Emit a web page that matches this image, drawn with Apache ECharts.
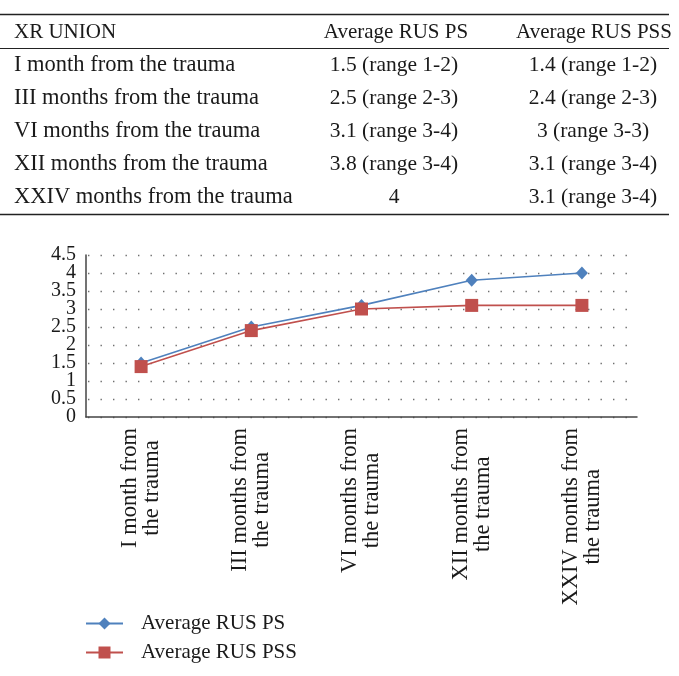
<!DOCTYPE html>
<html>
<head>
<meta charset="utf-8">
<script src="https://cdn.jsdelivr.net/npm/echarts@6/dist/echarts.min.js"></script>
<style>
html,body{margin:0;padding:0;background:#fff;}
#chart{width:679px;height:676px;}
</style>
</head>
<body>
<div id="chart"></div>
<script>
// ---- data ----
const categories = ['I month from the trauma','III months from the trauma','VI months from the trauma','XII months from the trauma','XXIV months from the trauma'];
const tableHeader = ['XR UNION','Average RUS PS','Average RUS PSS'];
const psText = ['1.5 (range 1-2)','2.5 (range 2-3)','3.1 (range 3-4)','3.8 (range 3-4)','4'];
const pssText = ['1.4 (range 1-2)','2.4 (range 2-3)','3 (range 3-3)','3.1 (range 3-4)','3.1 (range 3-4)'];
const seriesNames = ['Average RUS PS','Average RUS PSS'];
const psValues = [1.5, 2.5, 3.1, 3.8, 4];
const pssValues = [1.4, 2.4, 3, 3.1, 3.1];
const yMin = 0, yMax = 4.5, yStep = 0.5;

// ---- style ----
const SERIF = '"Liberation Serif", "DejaVu Serif", serif';
const TXT = '#1a1a1a';

const graphic = [];
function hline(y, w) {
  graphic.push({type:'line', silent:true, shape:{x1:0,y1:y,x2:669,y2:y}, style:{stroke:'#222', lineWidth:w}});
}
function txt(s, x, y, align, fs) {
  graphic.push({type:'text', silent:true, style:{text:s, x:x, y:y, align:align, verticalAlign:'middle', font: fs + 'px ' + SERIF, fill:TXT}});
}
hline(14.5, 1.6); hline(48.5, 1.2); hline(214.5, 1.6);
txt(tableHeader[0], 14, 32, 'left', 21);
txt(tableHeader[1], 396, 32, 'center', 21);
txt(tableHeader[2], 594, 32, 'center', 21);
const rowY0 = 65, rowStep = 33;
categories.forEach((c, i) => {
  const y = rowY0 + i * rowStep;
  txt(c, 14, y, 'left', 22.5);
  txt(psText[i], 394, y, 'center', 21.5);
  txt(pssText[i], 593, y, 'center', 21.5);
});

const yLabelStyle = {margin:10, fontFamily:SERIF, fontSize:20, color:TXT};

const chart = echarts.init(document.getElementById('chart'), null, {renderer:'canvas'});
chart.setOption({
  animation:false,
  backgroundColor:'#fff',
  graphic: graphic,
  grid:{left:86, right:42, top:255, bottom:259, containLabel:false},
  legend:{
    orient:'vertical', left:80, top:608, itemWidth:37, itemHeight:15, itemGap:8,
    textStyle:{fontFamily:SERIF, fontSize:21, color:TXT, padding:[0,0,0,13]},
    data: seriesNames
  },
  xAxis:{
    type:'category', data: categories, boundaryGap:true,
    axisLine:{show:true, lineStyle:{color:'#444', width:1.5}},
    axisTick:{show:false},
    splitLine:{show:false},
    axisLabel:{
      rotate:90, margin:11, interval:0,
      fontFamily:SERIF, fontSize:22.5, color:TXT, lineHeight:22,
      formatter: v => {
        const parts = v.split(' the trauma');
        return '{a|' + parts[0] + '}\n{a|the trauma}';
      },
      rich:{a:{align:'center', fontFamily:SERIF, fontSize:22.5, color:TXT, lineHeight:22}}
    }
  },
  yAxis:[{
    type:'value', min:yMin, max:yMax, interval:yStep, position:'left',
    axisLine:{show:true, lineStyle:{color:'#444', width:1.5}},
    axisTick:{show:false},
    axisLabel:Object.assign({showMinLabel:false, showMaxLabel:false, formatter: v => String(v)}, yLabelStyle),
    splitLine:{show:true, lineStyle:{color:'#6f6f6f', width:1.4, type:[1.4, 11.1], dashOffset:-2}}
  },{
    type:'value', min:yMin, max:yMax, interval:yStep, position:'left', offset:0,
    axisLine:{show:false}, axisTick:{show:false}, splitLine:{show:false},
    axisLabel:Object.assign({showMinLabel:true, showMaxLabel:true,
      formatter: v => (v === yMin || v === yMax) ? String(v) : ''}, yLabelStyle)
  }],
  series:[
    {name:seriesNames[0], type:'line', data:psValues, symbol:'diamond', symbolSize:[12,13],
     itemStyle:{color:'#4F81BD'}, lineStyle:{color:'#4F81BD', width:1.6}},
    {name:seriesNames[1], type:'line', data:pssValues, symbol:'rect', symbolSize:13,
     itemStyle:{color:'#C0504D'}, lineStyle:{color:'#C0504D', width:1.6}}
  ]
});
</script>
</body>
</html>
